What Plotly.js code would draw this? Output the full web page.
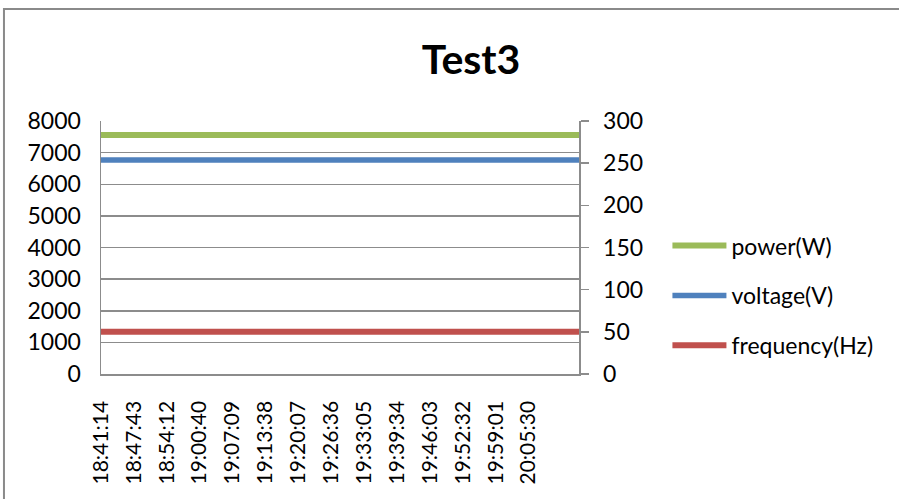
<!DOCTYPE html>
<html>
<head>
<meta charset="utf-8">
<script src="https://cdn.plot.ly/plotly-3.0.1.min.js"></script>
<style>
html,body{margin:0;padding:0;background:#fff;}
#chart{width:899px;height:499px;}
</style>
</head>
<body>
<div id="chart"></div>
<script>
// Sample times (HH:MM:SS)
const times = ['18:41:14','18:47:43','18:54:12','19:00:40','19:07:09','19:13:38','19:20:07',
               '19:26:36','19:33:05','19:39:34','19:46:03','19:52:32','19:59:01','20:05:30',
               '20:11:59','20:15:26'];
// Series values
const powerW     = [7560,7560,7560,7555,7560,7560,7565,7560,7560,7560,7560,7560,7560,7560,7560,7560];
const voltageV   = [253.8,253.6,253.5,253.6,253.8,253.8,253.8,253.8,253.8,253.8,253.8,253.8,253.8,253.8,253.8,253.8];
const frequencyHz= [50,50,50,50,50,50,50,50,50,50,50,50,50,50,50,50];
// Axis tick labels
const tickLabels = ['18:41:14','18:47:43','18:54:12','19:00:40','19:07:09','19:13:38','19:20:07',
                    '19:26:36','19:33:05','19:39:34','19:46:03','19:52:32','19:59:01','20:05:30'];

const day = '2000-01-01 ';
const xs = times.map(t => day + t);
const tickvals = tickLabels.map(t => day + t);

const FONT = 'Lato, "Open Sans", sans-serif';
const GRID = '#8c8c8c';

const traces = [
  {x: xs, y: powerW, name: 'power(W)', type: 'scatter', mode: 'lines',
   line: {color: '#9BBB59', width: 6}, legendgroup: 'a', yaxis: 'y'},
  {x: xs, y: voltageV, name: 'voltage(V)', type: 'scatter', mode: 'lines',
   line: {color: '#4F81BD', width: 5.5}, legendgroup: 'b', yaxis: 'y2'},
  {x: xs, y: frequencyHz, name: 'frequency(Hz)', type: 'scatter', mode: 'lines',
   line: {color: '#C0504D', width: 6}, legendgroup: 'c', yaxis: 'y2'}
];

const layout = {
  width: 899, height: 499,
  margin: {l: 101, r: 320, t: 121, b: 125},
  paper_bgcolor: '#fff', plot_bgcolor: '#fff',
  font: {family: FONT, size: 22, color: '#000'},
  title: {text: '<b>Test3</b>', font: {family: FONT, size: 41, color: '#000'},
          xref: 'container', yref: 'container', x: 0.524, y: 0.88, xanchor: 'center', yanchor: 'middle'},
  showlegend: true,
  legend: {x: 1.185, xanchor: 'left', y: 0.31, yanchor: 'middle', traceorder: 'grouped',
           tracegroupgap: 17, itemwidth: 54, font: {family: FONT, size: 23, color: '#000'},
           bgcolor: 'rgba(0,0,0,0)'},
  xaxis: {type: 'date', range: [xs[0], xs[xs.length - 1]], tickmode: 'array', tickvals: tickvals,
          ticktext: tickLabels, tickangle: -90, showgrid: false, showline: true, linecolor: GRID,
          linewidth: 1.5, ticks: '', zeroline: false, ticklabelstandoff: 17,
          tickfont: {family: FONT, size: 21, color: '#000'}, fixedrange: true},
  yaxis: {range: [0, 8000], dtick: 1000, tick0: 0, showgrid: true, gridcolor: GRID, gridwidth: 1.5,
          showline: true, linecolor: GRID, linewidth: 1.5, ticks: '', zeroline: false,
          ticklabelstandoff: 14, tickfont: {family: FONT, size: 23, color: '#000'}, fixedrange: true},
  yaxis2: {range: [0, 300], dtick: 50, tick0: 0, overlaying: 'y', side: 'right', showgrid: false,
           showline: true, linecolor: GRID, linewidth: 1.5, ticks: 'outside', ticklen: 8,
           tickcolor: GRID, tickwidth: 1.5, zeroline: false, ticklabelstandoff: 10,
           tickfont: {family: FONT, size: 23, color: '#000'}, fixedrange: true},
  shapes: [
    {type: 'path', xref: 'paper', yref: 'paper',
     path: 'M -0.203,-0.7 L -0.203,1.443 L 1.7,1.443',
     line: {color: '#8a8a8a', width: 2}}
  ]
};

Plotly.newPlot('chart', traces, layout, {displayModeBar: false, staticPlot: true});
</script>
</body>
</html>
